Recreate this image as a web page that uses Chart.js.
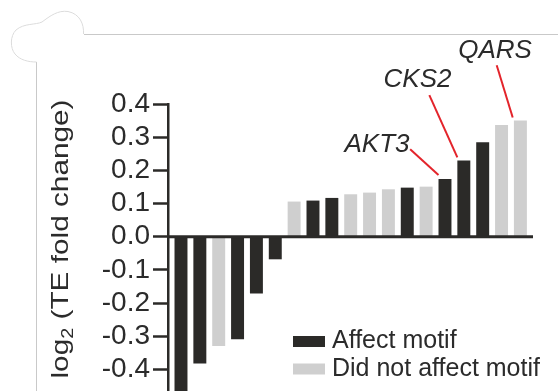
<!DOCTYPE html>
<html><head><meta charset="utf-8">
<script src="https://cdn.jsdelivr.net/npm/chart.js@4/dist/chart.umd.min.js"></script>
<style>html,body{margin:0;padding:0;overflow:hidden;background:#fff;width:558px;height:391px}canvas{display:block}</style>
</head><body>
<canvas id="c" width="558" height="391"></canvas>
<script>
// ---- data ----
const categories = ['1','2','3','4','5','6','7','8','9','10','11','12','13','14','15','16','17','18','19'];
const values = [-0.49, -0.381, -0.328, -0.308, -0.170, -0.067, 0.105, 0.108, 0.116, 0.127, 0.132, 0.142, 0.147, 0.150, 0.173, 0.229, 0.284, 0.336, 0.349];
const affectsMotif = [1,1,0,1,1,1,0,1,1,0,0,0,1,0,1,1,1,0,0];
const seriesNames = ['Affect motif', 'Did not affect motif'];
const tickLabels = ['0.4','0.3','0.2','0.1','0.0','-0.1','-0.2','-0.3','-0.4'];
const annotatedGenes = ['AKT3', 'CKS2', 'QARS'];
const annotatedIndex = [14, 15, 18];

// ---- styles ----
const FONT = "'Liberation Sans', Arial, Helvetica, sans-serif";
const DARK = '#2b2a28';
const GRAY = '#cfcfcf';
const TEXT = '#2b2b2b';
const RED = '#e3242b';

function seriesData(flag) {
  const out = [];
  values.forEach((v, i) => { if (affectsMotif[i] === flag) out.push({x: i, y: v}); });
  return out;
}

const decorPlugin = {
  id: 'decor',
  beforeDraw(chart) {
    const ctx = chart.ctx;
    ctx.save();
    ctx.strokeStyle = '#c9c9c9';
    ctx.lineWidth = 1;
    ctx.beginPath();
    ctx.moveTo(84, 34.5); ctx.lineTo(558, 34.5);
    ctx.moveTo(36.5, 62); ctx.lineTo(36.5, 391);
    ctx.stroke();
    ctx.strokeStyle = '#dcdcdc';
    ctx.beginPath();
    ctx.moveTo(83.5, 34);
    ctx.bezierCurveTo(84, 24, 80, 14, 68, 11.5);
    ctx.bezierCurveTo(58, 10, 50, 16, 42, 22);
    ctx.bezierCurveTo(36, 25, 24, 23, 16, 30);
    ctx.bezierCurveTo(10, 36, 10, 48, 15, 54);
    ctx.bezierCurveTo(20, 60, 28, 62, 36.5, 62);
    ctx.stroke();
    ctx.restore();
  }
};

const zeroLinePlugin = {
  id: 'zeroLine',
  afterDatasetsDraw(chart) {
    const {ctx, chartArea, scales} = chart;
    const y0 = scales.y.getPixelForValue(0);
    ctx.save();
    ctx.strokeStyle = DARK;
    ctx.lineWidth = 3;
    ctx.beginPath();
    ctx.moveTo(chartArea.left, y0); ctx.lineTo(chartArea.right, y0);
    ctx.stroke();
    ctx.restore();
  }
};

const annotationStyle = [
  {lineFrom: [-34.8, -30], lineTo: [-6.5, -4.3], text: [-68, -27.6]},
  {lineFrom: [-34.5, -65.7], lineTo: [-6.5, -3.4], text: [-46.3, -73.4]},
  {lineFrom: [-23.7, -55.7], lineTo: [-7.7, -3.4], text: [-25.4, -63.4]}
];

const annotationPlugin = {
  id: 'geneLabels',
  afterDraw(chart) {
    const {ctx, scales} = chart;
    ctx.save();
    annotatedIndex.forEach((idx, k) => {
      const st = annotationStyle[k];
      const xc = scales.x.getPixelForValue(idx);
      const yt = scales.y.getPixelForValue(values[idx]);
      ctx.strokeStyle = RED;
      ctx.lineWidth = 2;
      ctx.beginPath();
      ctx.moveTo(xc + st.lineFrom[0], yt + st.lineFrom[1]);
      ctx.lineTo(xc + st.lineTo[0], yt + st.lineTo[1]);
      ctx.stroke();
      ctx.fillStyle = TEXT;
      ctx.font = 'italic 26px ' + FONT;
      ctx.textAlign = 'center';
      ctx.textBaseline = 'alphabetic';
      ctx.fillText(annotatedGenes[k], xc + st.text[0], yt + st.text[1]);
    });
    ctx.restore();
  }
};

const legendPlugin = {
  id: 'customLegend',
  afterDraw(chart) {
    const ctx = chart.ctx;
    ctx.save();
    ctx.font = '25px ' + FONT;
    ctx.textAlign = 'left';
    ctx.textBaseline = 'alphabetic';
    chart.data.datasets.forEach((ds, i) => {
      const y = 336 + i * 27.5;
      ctx.fillStyle = ds.backgroundColor;
      ctx.fillRect(293, y, 32, 11);
      ctx.fillStyle = TEXT;
      ctx.fillText(ds.label, 332, y + 12.4);
    });
    ctx.restore();
  }
};

const yTitlePlugin = {
  id: 'yTitle',
  afterDraw(chart) {
    const ctx = chart.ctx;
    const size = 24, subSize = 16, stretch = 1.24;
    const parts = [
      {t: 'log', f: size + 'px ' + FONT, dy: 0},
      {t: '2', f: subSize + 'px ' + FONT, dy: 5},
      {t: ' (TE fold change)', f: size + 'px ' + FONT, dy: 0}
    ];
    let total = 0;
    parts.forEach(p => { ctx.font = p.f; p.w = ctx.measureText(p.t).width; total += p.w; });
    ctx.save();
    ctx.translate(67.5, 239);
    ctx.rotate(-Math.PI / 2);
    ctx.scale(stretch, 1);
    ctx.fillStyle = TEXT;
    ctx.textBaseline = 'alphabetic';
    ctx.textAlign = 'left';
    let x = -total / 2;
    parts.forEach(p => { ctx.font = p.f; ctx.fillText(p.t, x, p.dy); x += p.w; });
    ctx.restore();
  }
};

new Chart(document.getElementById('c'), {
  type: 'bar',
  data: {
    labels: categories,
    datasets: [
      {label: seriesNames[0], data: seriesData(1), backgroundColor: DARK, borderWidth: 0, barThickness: 12.3, grouped: false},
      {label: seriesNames[1], data: seriesData(0), backgroundColor: GRAY, borderWidth: 0, barThickness: 12.3, grouped: false}
    ]
  },
  options: {
    responsive: false,
    animation: false,
    devicePixelRatio: 1,
    layout: {padding: {top: 104, right: 25, bottom: 0, left: 0}},
    plugins: {legend: {display: false}, tooltip: {enabled: false}},
    scales: {
      x: {type: 'linear', min: -0.689, max: 18.668, offset: false, display: false},
      y: {
        min: -0.4648, max: 0.4,
        afterBuildTicks: s => { s.ticks = tickLabels.map(t => ({value: parseFloat(t)})); },
        afterFit: s => { s.width = 168; s.paddingBottom = 0; s.paddingTop = 0; },
        ticks: {
          autoSkip: false,
          padding: 3,
          color: TEXT,
          font: {family: FONT, size: 28},
          callback: (v) => { const i = tickLabels.findIndex(t => Math.abs(parseFloat(t) - v) < 1e-9); return i >= 0 ? tickLabels[i] : ''; }
        },
        grid: {drawOnChartArea: false, drawTicks: true, tickLength: 15, tickWidth: 2.5, tickColor: DARK},
        border: {display: true, color: DARK, width: 2.5}
      }
    }
  },
  plugins: [decorPlugin, zeroLinePlugin, annotationPlugin, legendPlugin, yTitlePlugin]
});
</script>
</body></html>
